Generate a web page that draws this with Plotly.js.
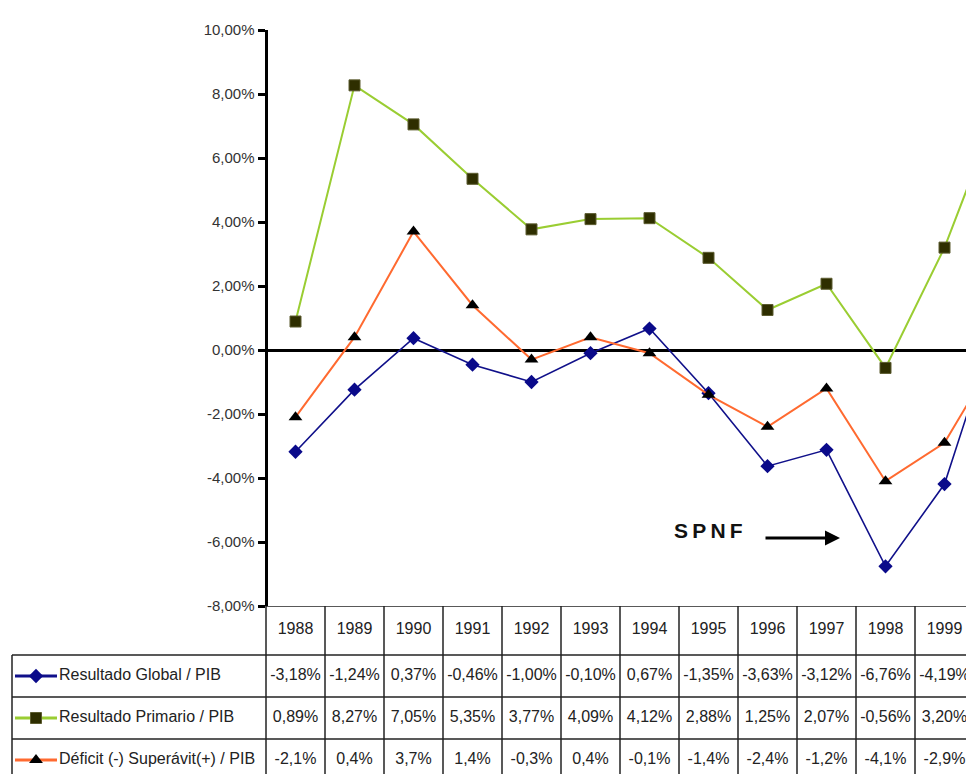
<!DOCTYPE html>
<html><head><meta charset="utf-8">
<script src="https://cdn.plot.ly/plotly-3.0.1.min.js"></script>
<style>html,body{margin:0;padding:0;overflow:hidden;background:#fff}#c{width:966px;height:774px}</style>
</head><body><div id="c"></div>
<script>
// ---- data ----
const years = ['1988','1989','1990','1991','1992','1993','1994','1995','1996','1997','1998','1999','2000'];
const seriesNames = ['Resultado Global / PIB','Resultado Primario / PIB','Déficit (-) Superávit(+) / PIB'];
const global = [-3.18,-1.24,0.37,-0.46,-1.00,-0.10,0.67,-1.35,-3.63,-3.12,-6.76,-4.19,1.5];
const primario = [0.89,8.27,7.05,5.35,3.77,4.09,4.12,2.88,1.25,2.07,-0.56,3.20,8.0];
const deficit = [-2.1,0.4,3.7,1.4,-0.3,0.4,-0.1,-1.4,-2.4,-1.2,-4.1,-2.9,0.2];
const decimals = [2,2,1];
const yTicks = [-8,-6,-4,-2,0,2,4,6,8,10];

// ---- geometry helpers ----
const W=966,H=774;
const col0=295.5, colW=59;            // pixel centre of first category, column width
const px2i = p => (p-col0)/colW;      // pixel x -> category index
const idx = years.map((_,i)=>i);
const fmt = (v,d)=> v.toFixed(d).replace('.',',')+'%';
const FONT = 'Liberation Sans, Arial, sans-serif';

const colors = ['#10108a','#9acd32','#ff6a30'];
const markers = [
  {symbol:'diamond',size:11,color:'#0a0a8a'},
  {symbol:'square',size:11,color:'#2e2e00',line:{color:'#5c5c30',width:1}},
  {symbol:'triangle-up',size:12,color:'#000'}
];
const vals=[global,primario,deficit];

const traces=[];
vals.forEach((v,k)=>{
  traces.push({x:idx,y:v,type:'scatter',mode:'lines+markers',xaxis:'x',yaxis:'y',
    line:{color:colors[k],width:k===0?1.6:2},marker:markers[k],hoverinfo:'skip',cliponaxis:true});
});

// table rows (pixel y centres on yaxis2, which runs in page pixels)
const headerY=630, rowY=[676,718,760];
traces.push({x:idx,y:idx.map(()=>headerY),text:years,mode:'text',type:'scatter',xaxis:'x2',yaxis:'y2',
  textfont:{family:FONT,size:16,color:'#222'},hoverinfo:'skip'});
vals.forEach((v,k)=>{
  traces.push({x:idx,y:idx.map(()=>rowY[k]),text:v.map(a=>fmt(a,decimals[k])),mode:'text',type:'scatter',
    xaxis:'x2',yaxis:'y2',textfont:{family:FONT,size:16,color:'#222'},hoverinfo:'skip'});
  // legend key
  traces.push({x:[px2i(15),px2i(57)],y:[rowY[k],rowY[k]],mode:'lines',type:'scatter',xaxis:'x2',yaxis:'y2',
    line:{color:colors[k],width:3},hoverinfo:'skip'});
  traces.push({x:[px2i(36)],y:[rowY[k]],mode:'markers',type:'scatter',xaxis:'x2',yaxis:'y2',
    marker:markers[k],hoverinfo:'skip'});
  traces.push({x:[px2i(59)],y:[rowY[k]],text:[seriesNames[k]],mode:'text',type:'scatter',textposition:'middle right',
    xaxis:'x2',yaxis:'y2',textfont:{family:FONT,size:16,color:'#222'},hoverinfo:'skip'});
});

// table grid
const shapes=[];
const lc={color:'#222',width:1.5};
shapes.push({type:'line',xref:'x2',yref:'y2',x0:px2i(266),x1:px2i(W+5),y0:606,y1:606,line:lc});
[655,697,739].forEach(y=>shapes.push({type:'line',xref:'x2',yref:'y2',x0:px2i(12),x1:px2i(W+5),y0:y,y1:y,line:lc}));
shapes.push({type:'line',xref:'x2',yref:'y2',x0:px2i(12),x1:px2i(12),y0:655,y1:780,line:lc});
for(let i=0;i<=years.length;i++){
  const xb=i-0.5;
  shapes.push({type:'line',xref:'x2',yref:'y2',x0:xb,x1:xb,y0:606,y1:780,line:lc});
}

const yTop=30,yBot=606;
const layout={
  width:W,height:H,margin:{l:0,r:0,t:0,b:0},paper_bgcolor:'#fff',plot_bgcolor:'rgba(0,0,0,0)',
  showlegend:false,
  xaxis:{domain:[268/W,1],range:[px2i(268),px2i(W)],showgrid:false,zeroline:false,showticklabels:false,ticks:'',showline:false,fixedrange:true},
  yaxis:{domain:[(H-yBot)/H,(H-yTop)/H],range:[-8,10],tickvals:yTicks,ticktext:yTicks.map(t=>fmt(t,2)),
    showgrid:false,zeroline:true,zerolinecolor:'#000',zerolinewidth:3,showline:true,linecolor:'#000',linewidth:3.5,
    ticks:'outside',ticklen:7,tickwidth:3,tickcolor:'#000',tickfont:{family:FONT,size:15,color:'#333'},fixedrange:true},
  xaxis2:{domain:[0,1],range:[px2i(0),px2i(W)],visible:false,fixedrange:true,anchor:'y2'},
  yaxis2:{domain:[0,(H-yBot)/H],range:[H,yBot],visible:false,fixedrange:true,anchor:'x2'},
  shapes:shapes,
  annotations:[
    {x:px2i(708),y:(350-530)/32,xref:'x',yref:'y',text:'<b>S\u2009P\u2009N\u2009F</b>',showarrow:false,
      font:{family:'Liberation Sans, Arial, sans-serif',size:21,color:'#111'}},
    {x:px2i(840),y:(350-538)/32,xref:'x',yref:'y',ax:-76,ay:0,text:'',showarrow:true,
      arrowhead:2,arrowsize:1,arrowwidth:3,arrowcolor:'#000'}
  ]
};
Plotly.newPlot('c',traces,layout,{staticPlot:true,displayModeBar:false});
</script></body></html>
